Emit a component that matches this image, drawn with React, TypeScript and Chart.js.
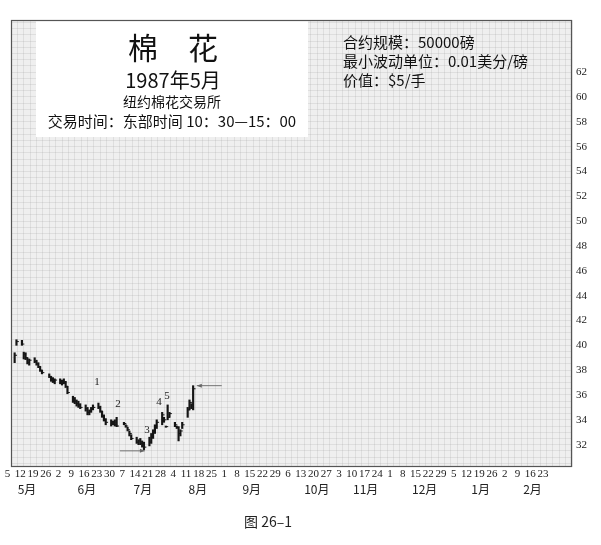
import React, { useEffect, useRef } from 'react';
import { Chart, registerables } from 'chart.js';

Chart.register(...registerables);

// ---- data (x = calendar days after 5 May 1987) ----
const tradeDays = [2, 3, 6, 7, 8, 9, 10, 13, 14, 15, 16, 17, 21, 22, 23, 24, 27, 28, 29, 30, 31, 34, 35, 36, 37, 38, 41, 42, 43, 44, 45, 48, 49, 50, 51, 52, 55, 56, 57, 58, 62, 63, 64, 65, 66, 69, 70, 71, 72, 73, 76, 77, 78, 79, 80, 83, 84, 85, 86, 87, 90, 91, 92, 93, 94, 97, 98, 99, 100];
const highs = [39.4, 40.45, 40.4, 39.45, 39.4, 39.0, 38.9, 39.0, 38.8, 38.6, 38.3, 38.0, 37.7, 37.5, 37.4, 37.3, 37.3, 37.2, 37.3, 37.1, 36.7, 35.9, 35.8, 35.6, 35.5, 35.3, 35.2, 35.0, 34.8, 35.0, 35.2, 35.35, 35.1, 34.7, 34.4, 34.1, 34.0, 33.9, 34.0, 34.2, 33.8, 33.6, 33.4, 33.1, 32.8, 32.6, 32.4, 32.5, 32.3, 32.2, 32.6, 32.9, 33.2, 33.6, 34.0, 34.6, 34.2, 33.5, 35.2, 34.6, 33.8, 33.5, 33.45, 33.2, 33.8, 35.0, 35.6, 35.3, 36.75];
const lows = [38.6, 40.0, 40.0, 38.9, 38.85, 38.5, 38.4, 38.6, 38.4, 38.2, 37.9, 37.7, 37.4, 37.1, 37.0, 36.9, 36.9, 36.8, 36.9, 36.6, 36.1, 35.4, 35.3, 35.1, 35.0, 34.9, 34.7, 34.4, 34.4, 34.6, 34.8, 34.9, 34.6, 34.2, 33.9, 33.6, 33.5, 33.6, 33.5, 33.45, 33.6, 33.4, 33.1, 32.7, 32.4, 32.1, 32.0, 32.0, 31.8, 31.6, 31.9, 32.1, 32.5, 32.9, 33.3, 33.6, 33.8, 33.4, 34.0, 34.2, 33.45, 33.3, 32.3, 32.7, 33.3, 34.2, 34.8, 34.9, 34.8];
const closes = [39.2, 40.3, 40.1, 39.3, 39.0, 38.6, 38.8, 38.7, 38.5, 38.3, 38.0, 37.8, 37.5, 37.3, 37.1, 37.2, 37.0, 37.1, 37.0, 36.7, 36.2, 35.6, 35.5, 35.3, 35.2, 35.0, 34.9, 34.6, 34.7, 34.9, 35.0, 35.0, 34.7, 34.3, 34.0, 33.8, 33.7, 33.8, 33.6, 33.5, 33.7, 33.5, 33.2, 32.9, 32.5, 32.2, 32.3, 32.1, 31.9, 31.8, 32.2, 32.8, 33.0, 33.5, 33.8, 34.4, 34.0, 33.45, 34.2, 34.5, 33.6, 33.4, 32.9, 33.1, 33.6, 34.8, 35.4, 35.2, 36.5];

const xTickLabels = [
  '5', '12', '19', '26',
  '2', '9', '16', '23', '30',
  '7', '14', '21', '28',
  '4', '11', '18', '25',
  '1', '8', '15', '22', '29',
  '6', '13', '20', '27',
  '3', '10', '17', '24',
  '1', '8', '15', '22', '29',
  '5', '12', '19', '26',
  '2', '9', '16', '23',
];
const monthLabels = ['5月', '6月', '7月', '8月', '9月', '10月', '11月', '12月', '1月', '2月'];
const monthDays = [8.8, 41.7, 72.4, 102.6, 132.2, 167.9, 194.7, 227.1, 257.8, 286.3];
const yTickValues = [32, 34, 36, 38, 40, 42, 44, 46, 48, 50, 52, 54, 56, 58, 60, 62];

const waveLabels = ['1', '2', '3', '4', '5'];
const waveX = [47.2, 58.7, 74.6, 81.2, 85.6];
const waveY = [37.06, 35.3, 33.2, 35.4, 35.9];

const arrowFromX = [59.8, 115.7];
const arrowToX = [73.5, 102];
const arrowY = [31.5, 36.75];

const titleMain = '棉　花';
const titleDate = '1987年5月';
const titleExchange = '纽约棉花交易所';
const titleHours = '交易时间：东部时间 10：30—15：00';
const infoLines = ['合约规模：50000磅', '最小波动单位：0.01美分/磅', '价值：$5/手'];
const caption = '图 26–1';

const X_MAX = 308;
const Y_MIN = 30.2;
const Y_MAX = 66.2;
const CJK = '"Noto Sans CJK SC", "Noto Sans", sans-serif';
const SERIF = '"Liberation Serif", "DejaVu Serif", serif';
const gridColor = 'rgba(150,150,150,0.32)';

const overlayPlugin = {
  id: 'overlay',
  beforeDraw(chart: any) {
    const { ctx, chartArea: a } = chart;
    ctx.save();
    ctx.fillStyle = '#ffffff';
    ctx.fillRect(0, 0, chart.width, chart.height);
    ctx.fillStyle = '#efefef';
    ctx.fillRect(a.left, a.top, a.right - a.left, a.bottom - a.top);
    ctx.restore();
  },
  beforeDatasetsDraw(chart: any) {
    const { ctx, chartArea: a } = chart;
    ctx.save();
    ctx.fillStyle = '#ffffff';
    ctx.fillRect(36, a.top, 272, 117);
    ctx.strokeStyle = '#555';
    ctx.lineWidth = 1.2;
    ctx.strokeRect(a.left + 0.5, a.top + 0.5, a.right - a.left - 1, a.bottom - a.top - 1);
    ctx.restore();
  },
  afterDraw(chart: any) {
    const { ctx } = chart;
    const xs = chart.scales.x;
    const ys = chart.scales.y;
    ctx.save();
    ctx.fillStyle = '#111';
    ctx.textBaseline = 'middle';
    ctx.textAlign = 'center';
    ctx.font = `30px ${CJK}`;
    ctx.fillText(titleMain, 173, 48);
    ctx.font = `20px ${CJK}`;
    ctx.fillText(titleDate, 173, 80);
    ctx.font = `14px ${CJK}`;
    ctx.fillText(titleExchange, 172, 102);
    ctx.font = `15px ${CJK}`;
    ctx.fillText(titleHours, 172, 121);

    ctx.textAlign = 'left';
    ctx.font = `15px ${CJK}`;
    infoLines.forEach((t, i) => ctx.fillText(t, 343, 42 + i * 19));

    ctx.textAlign = 'center';
    ctx.fillStyle = '#222';
    ctx.font = `11px ${SERIF}`;
    waveLabels.forEach((t, i) => {
      ctx.fillText(t, xs.getPixelForValue(waveX[i]), ys.getPixelForValue(waveY[i]));
    });

    ctx.strokeStyle = '#666';
    ctx.fillStyle = '#666';
    ctx.lineWidth = 0.9;
    arrowFromX.forEach((fx, i) => {
      const x1 = xs.getPixelForValue(fx);
      const x2 = xs.getPixelForValue(arrowToX[i]);
      const y = ys.getPixelForValue(arrowY[i]);
      ctx.beginPath();
      ctx.moveTo(x1, y);
      ctx.lineTo(x2, y);
      ctx.stroke();
      const dir = x2 > x1 ? 1 : -1;
      ctx.beginPath();
      ctx.moveTo(x2, y);
      ctx.lineTo(x2 - dir * 5, y - 2);
      ctx.lineTo(x2 - dir * 5, y + 2);
      ctx.closePath();
      ctx.fill();
    });

    ctx.fillStyle = '#222';
    ctx.font = `14px ${CJK}`;
    ctx.fillText(caption, 268, 522);
    ctx.restore();
  },
};

export default function App() {
  const ref = useRef<HTMLCanvasElement>(null);

  useEffect(() => {
    if (!ref.current) return;
    const chart = new Chart(ref.current, {
      type: 'bar',
      data: {
        datasets: [
          {
            type: 'bar',
            data: tradeDays.map((d, i) => ({ x: d, y: [lows[i], highs[i]] })) as any,
            backgroundColor: '#151515',
            borderWidth: 0,
            barThickness: 1.5,
            xAxisID: 'x',
            yAxisID: 'y',
          } as any,
          {
            type: 'scatter',
            data: tradeDays.map((d, i) => ({ x: d + 0.6, y: closes[i] })),
            pointStyle: 'line',
            pointRadius: 1.3,
            borderColor: '#151515',
            borderWidth: 1,
            xAxisID: 'x',
            yAxisID: 'y',
          } as any,
        ],
      },
      options: {
        responsive: false,
        animation: false,
        events: [],
        layout: { padding: { left: 11, top: 20, right: 0, bottom: 0 } },
        plugins: { legend: { display: false }, tooltip: { enabled: false }, title: { display: false } },
        scales: {
          x: {
            type: 'linear',
            position: 'bottom',
            weight: 0,
            min: 0,
            max: X_MAX,
            offset: false,
            afterBuildTicks: (s: any) => {
              const t = [];
              for (let v = 0; v <= X_MAX; v += 3.5) t.push({ value: v });
              s.ticks = t;
            },
            afterFit: (s: any) => {
              s.height = 14;
            },
            ticks: {
              autoSkip: false,
              maxRotation: 0,
              minRotation: 0,
              padding: 1,
              labelOffset: -3.5,
              color: '#222',
              font: { family: SERIF, size: 11 },
              callback: (v: any) => {
                const k = v / 7;
                return Number.isInteger(k) && k < xTickLabels.length ? xTickLabels[k] : '';
              },
            },
            grid: { color: gridColor, lineWidth: 0.6, drawTicks: false, offset: false },
            border: { display: false },
          } as any,
          x2: {
            type: 'linear',
            position: 'bottom',
            weight: 1,
            min: 0,
            max: X_MAX,
            offset: false,
            afterBuildTicks: (s: any) => {
              s.ticks = monthDays.map((v) => ({ value: v }));
            },
            afterFit: (s: any) => {
              s.height = 64;
            },
            ticks: {
              autoSkip: false,
              maxRotation: 0,
              minRotation: 0,
              padding: 1,
              color: '#222',
              font: { family: CJK, size: 12 },
              callback: (_v: any, i: number) => monthLabels[i],
            },
            grid: { display: false, drawTicks: false },
            border: { display: false },
          } as any,
          y: {
            type: 'linear',
            position: 'right',
            min: Y_MIN,
            max: Y_MAX,
            afterBuildTicks: (s: any) => {
              const t = [];
              for (let v = 30.5; v <= 66; v += 0.5) t.push({ value: v });
              s.ticks = t;
            },
            afterFit: (s: any) => {
              s.width = 29;
            },
            ticks: {
              autoSkip: false,
              padding: 4,
              color: '#222',
              font: { family: SERIF, size: 11 },
              callback: (v: any) => (yTickValues.includes(v) ? String(v) : ''),
            },
            grid: { color: gridColor, lineWidth: 0.6, drawTicks: false },
            border: { display: false },
          } as any,
        },
      },
      plugins: [overlayPlugin],
    });
    return () => chart.destroy();
  }, []);

  return (
    <div style={{ position: 'fixed', left: 0, top: 0, width: 601, height: 545, background: '#fff' }}>
      <canvas ref={ref} width={601} height={545} style={{ display: 'block' }} />
    </div>
  );
}
